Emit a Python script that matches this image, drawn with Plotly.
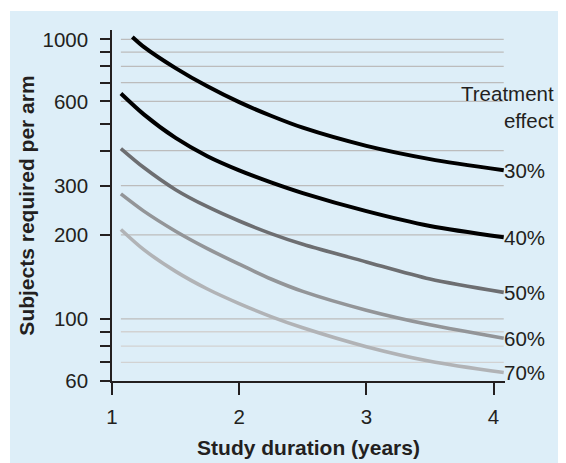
import plotly.graph_objects as go
import math

# ---- data ----
duration = [1.07, 1.25, 1.5, 1.75, 2.0, 2.25, 2.5, 3.0, 3.5, 4.08]
duration_30 = [1.16, 1.25, 1.5, 1.75, 2.0, 2.25, 2.5, 3.0, 3.5, 4.08]
effects = ["30%", "40%", "50%", "60%", "70%"]
subjects_30 = [1020, 940, 789, 679, 596, 533, 483, 416, 373, 340]
subjects_40 = [640, 539, 444, 382, 340, 308, 282, 243, 215, 196]
subjects_50 = [407, 348, 290, 252, 224, 202, 185, 160, 139, 124.5]
subjects_60 = [280, 243, 206, 178.5, 157, 139, 125.5, 107.5, 95.3, 85.3]
subjects_70 = [209, 177, 148, 128, 113.5, 102, 93, 79.6, 70.6, 64.3]
series = [subjects_30, subjects_40, subjects_50, subjects_60, subjects_70]
x_series = [duration_30, duration, duration, duration, duration]

y_tickvals = [60, 70, 80, 90, 100, 200, 300, 400, 500, 600, 700, 800, 900, 1000]
y_ticktext = ["60", "", "", "", "100", "200", "300", "", "", "600", "", "", "", "1000"]
grid_values = [70, 80, 90, 100, 200, 300, 400, 600, 700, 800, 900, 1000]
x_tickvals = [1, 2, 3, 4]

# ---- styles ----
colors = ["#000000", "#000000", "#6d6e71", "#939598", "#b1b3b6"]
widths = [4, 4, 3.6, 3.6, 3.6]
TXT = "#231f20"
FONT = "Liberation Sans, Arial, sans-serif"
FS = 20.5

fig = go.Figure()

# background gridlines (below curves)
for gv in grid_values:
    fig.add_shape(type="line", xref="x", yref="y", layer="below",
                  x0=duration[0], x1=duration[-1], y0=gv, y1=gv,
                  line=dict(color="#bcbcbc" if gv >= 100 else "#d2d2d2", width=1.3))

for name, xs, vals, c, w in zip(effects, x_series, series, colors, widths):
    fig.add_trace(go.Scatter(x=xs, y=vals, mode="lines", name=name,
                             line=dict(color=c, width=w, shape="spline", smoothing=0.8),
                             showlegend=False, hoverinfo="skip"))
    fig.add_annotation(x=xs[-1], y=math.log10(vals[-1]), text=name,
                       xanchor="left", yanchor="middle", showarrow=False,
                       xshift=-2, font=dict(size=FS, color=TXT, family=FONT))

fig.add_annotation(xref="paper", yref="paper", x=1.13, y=0.781,
                   text="Treatment<br>effect", align="right", xanchor="right",
                   yanchor="middle", showarrow=False,
                   font=dict(size=FS, color=TXT, family=FONT))

# light blue panel
fig.add_shape(type="rect", xref="paper", yref="paper", layer="below",
              x0=-0.2595, x1=1.2, y0=-0.3, y1=1.054,
              fillcolor="#ddeef8", line=dict(width=0))

fig.update_xaxes(range=[1, 4.09], tickvals=x_tickvals, ticks="outside", ticklen=12,
                 tickwidth=1.5, tickcolor=TXT, showline=True, linecolor=TXT, linewidth=1.5,
                 showgrid=False, zeroline=False, ticklabelstandoff=5, automargin=False,
                 tickfont=dict(size=FS, color=TXT, family=FONT),
                 title=dict(text="<b>Study duration (years)</b>", standoff=13,
                            font=dict(size=21, color=TXT, family=FONT)))
fig.update_yaxes(type="log", range=[math.log10(60), math.log10(1080)],
                 tickvals=y_tickvals, ticktext=y_ticktext, ticks="outside", ticklen=10,
                 tickwidth=1.5, tickcolor=TXT, showline=True, linecolor=TXT, linewidth=1.5,
                 showgrid=False, zeroline=False, ticklabelstandoff=8, automargin=False,
                 tickfont=dict(size=FS, color=TXT, family=FONT),
                 title=dict(text="<b>Subjects required per arm</b>", standoff=2,
                            font=dict(size=21, color=TXT, family=FONT)))

# page body has an 8px default margin, so the figure is offset by 8px
fig.update_layout(width=558, height=455, margin=dict(l=104, r=61, t=22, b=82, pad=0),
                  paper_bgcolor="white", plot_bgcolor="white",
                  font=dict(family=FONT, color=TXT))

fig.write_html("out.html")
